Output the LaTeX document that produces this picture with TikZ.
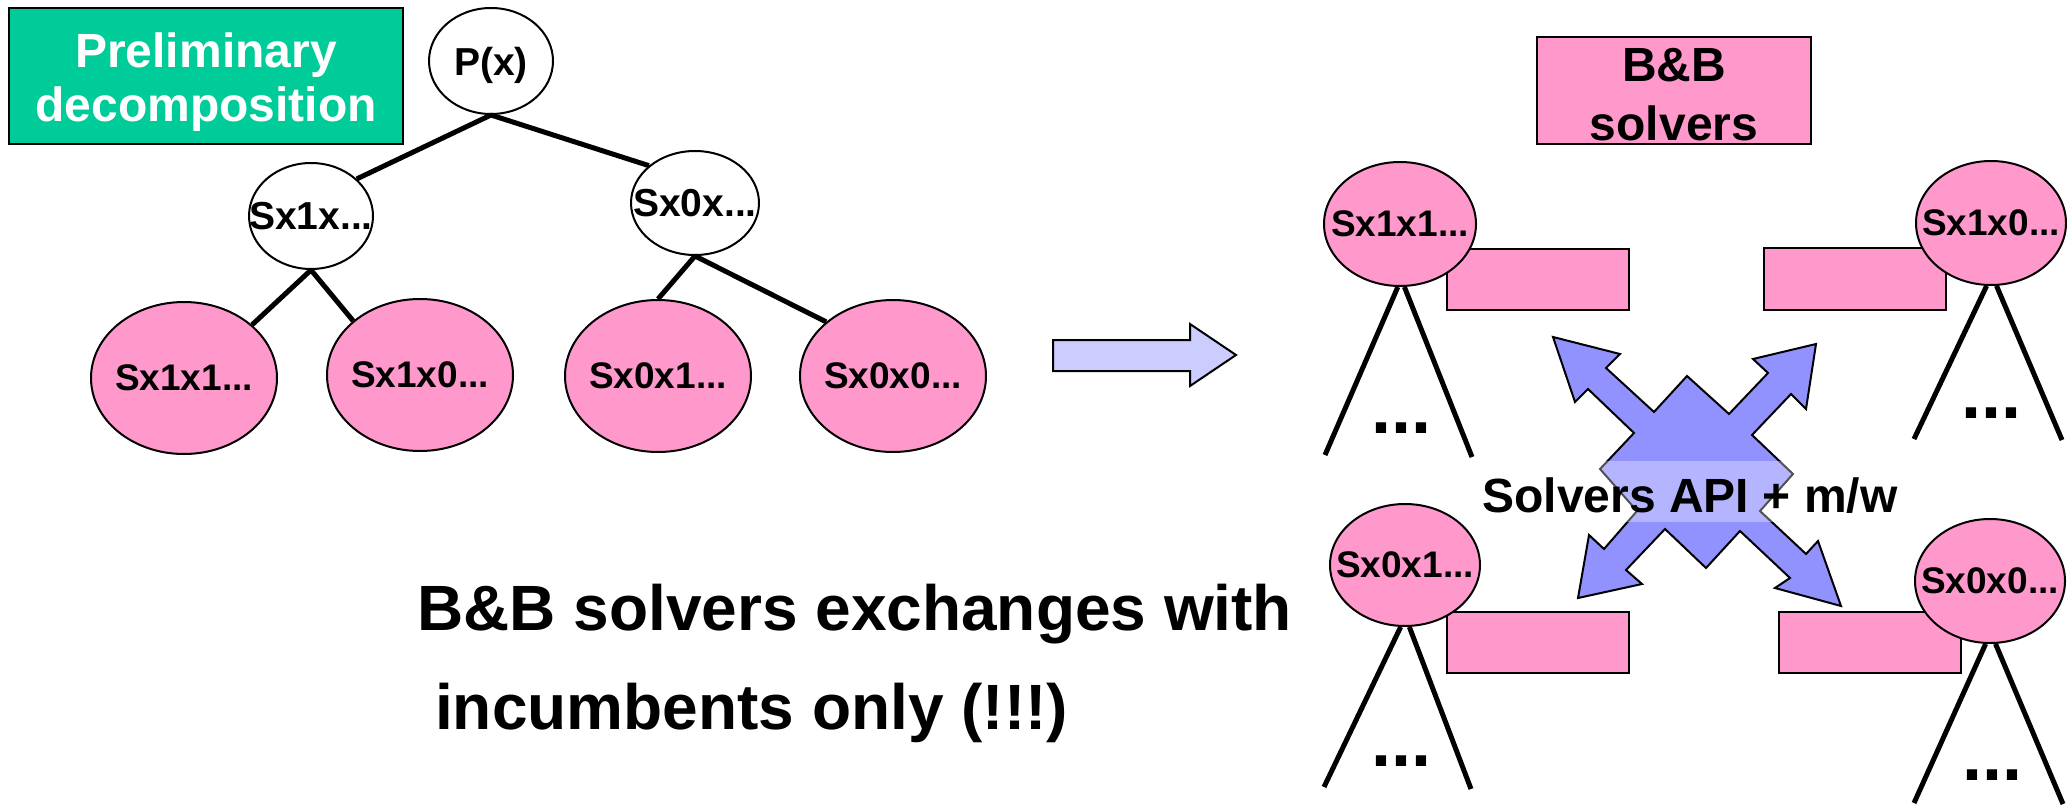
\documentclass[tikz,border=0pt]{standalone}
\usepackage{fontspec}
\setmainfont{Liberation Sans}
\usetikzlibrary{shapes.geometric}
\definecolor{pinkfill}{HTML}{FF99CC}
\definecolor{greenfill}{HTML}{00CC99}
\definecolor{lavender}{HTML}{CCCCFF}
\definecolor{apiblue}{HTML}{9292FF}
\begin{document}
\begin{tikzpicture}[x=1pt,y=-1pt,
  oval/.style 2 args={ellipse, draw=black, line width=2pt, inner sep=0pt,
    minimum width=#1, minimum height=#2},
  lbl/.style={font=\fontsize{37}{40}\selectfont\bfseries, inner sep=0pt, text depth=0pt},
  lblbig/.style={font=\fontsize{39}{42}\selectfont\bfseries, inner sep=0pt, text depth=0pt},
  branch/.style={line width=5pt},
  pinkbox/.style={rectangle, draw=black, line width=2pt, fill=pinkfill, inner sep=0pt},
  dots/.style={font=\fontsize{72}{72}\selectfont\bfseries, inner sep=0pt, anchor=base},
  heading/.style={font=\fontsize{48}{54}\selectfont\bfseries, inner sep=0pt, anchor=base},
  bigtext/.style={font=\fontsize{64}{70}\selectfont\bfseries, inner sep=0pt, anchor=base west},
  blockarrow/.style={draw=black, line width=2pt, line join=miter},
]
\useasboundingbox (0,0) rectangle (2067,805);

% ---- preliminary decomposition tree ----
\node[rectangle, draw=black, line width=2pt, fill=greenfill, inner sep=0pt,
      minimum width=394pt, minimum height=136pt] (prelim) at (206,76) {};
\node[heading, text=white] (prelimA) at (206,68) {Preliminary};
\node[heading, text=white] (prelimB) at (206,122) {decomposition};

\node[oval={124pt}{106pt}, fill=white, label={[lblbig]center:P(x)}] (P) at (491,61) {};
\node[oval={124pt}{106pt}, fill=white, label={[lblbig]center:Sx1x...}] (S1) at (311,216) {};
\node[oval={128pt}{104pt}, fill=white, label={[lblbig]center:Sx0x...}] (S0) at (695,203) {};
\node[oval={186pt}{152pt}, fill=pinkfill, label={[lbl]center:Sx1x1...}] (S11) at (184,378) {};
\node[oval={186pt}{152pt}, fill=pinkfill, label={[lbl]center:Sx1x0...}] (S10) at (420,375) {};
\node[oval={186pt}{152pt}, fill=pinkfill, label={[lbl]center:Sx0x1...}] (S01) at (658,376) {};
\node[oval={186pt}{152pt}, fill=pinkfill, label={[lbl]center:Sx0x0...}] (S00) at (893,376) {};

\draw[branch] (P.south) -- (S1.39);
\draw[branch] (P.south) -- (S0.141);
\draw[branch] (S1.south) -- (S11.38);
\draw[branch] (S1.south) -- (S10.141);
\draw[branch] (S0.south) -- (S01.north);
\draw[branch] (S0.south) -- (S00.141);

% ---- transition arrow ----
\draw[blockarrow, fill=lavender] (1053,340) -- (1190,340) -- (1190,324) -- (1236,355)
  -- (1190,386) -- (1190,371) -- (1053,371) -- cycle;

\node[bigtext] (msgA) at (417,630) {B\&B solvers exchanges with};
\node[bigtext] (msgB) at (435,729) {incumbents only (!!!)};

% ---- parallel B&B solvers ----
\node[pinkbox, minimum width=274pt, minimum height=107pt] (bb) at (1674,90.5) {};
\node[heading] (bbA) at (1674,82) {B\&B};
\node[heading] (bbB) at (1674,141) {solvers};

\node[pinkbox, minimum width=182pt, minimum height=61pt] (q1) at (1538,279.5) {};
\node[pinkbox, minimum width=182pt, minimum height=61pt] (q2) at (1855,279) {};
\node[pinkbox, minimum width=182pt, minimum height=61pt] (q3) at (1538,642.5) {};
\node[pinkbox, minimum width=182pt, minimum height=61pt] (q4) at (1870,642.5) {};

\node[oval={152pt}{124pt}, fill=pinkfill, label={[lbl]center:Sx1x1...}] (R1) at (1400,224) {};
\node[oval={150pt}{124pt}, fill=pinkfill, label={[lbl]center:Sx1x0...}] (R2) at (1991,223) {};
\node[oval={150pt}{122pt}, fill=pinkfill, label={[lbl]center:Sx0x1...}] (R3) at (1405,565) {};
\node[oval={150pt}{124pt}, fill=pinkfill, label={[lbl]center:Sx0x0...}] (R4) at (1990,581) {};

\coordinate (R1l) at (1325,455); \coordinate (R1r) at (1472,457);
\coordinate (R2l) at (1914,439); \coordinate (R2r) at (2062,440);
\coordinate (R3l) at (1324,787); \coordinate (R3r) at (1471,789);
\coordinate (R4l) at (1914,803); \coordinate (R4r) at (2063,804);

\draw[branch] (R1.268) -- (R1l);  \draw[branch] (R1.274) -- (R1r);
\draw[branch] (R2.266) -- (R2l);  \draw[branch] (R2.275) -- (R2r);
\draw[branch] (R3.266) -- (R3l);  \draw[branch] (R3.274) -- (R3r);
\draw[branch] (R4.266) -- (R4l);  \draw[branch] (R4.275) -- (R4r);

\node[dots] (d1) at (1401,433) {...};
\node[dots] (d2) at (1991,418) {...};
\node[dots] (d3) at (1401,766) {...};
\node[dots] (d4) at (1992,780) {...};

% ---- four-way exchange arrow ----
\draw[blockarrow, fill=apiblue]
  (1553,337) -- (1620,354) -- (1606,368) -- (1654,412) -- (1687,376)
  -- (1729,414) -- (1768,373) -- (1753,359) -- (1816,344) -- (1806,409)
  -- (1791,394) -- (1752,435) -- (1793,474) -- (1760,511) -- (1806,554)
  -- (1818,541) -- (1841,606) -- (1775,588) -- (1790,578) -- (1740,531)
  -- (1706,568) -- (1665,529) -- (1626,570) -- (1642,584) -- (1578,598)
  -- (1589,535) -- (1604,549) -- (1637,511) -- (1600,469) -- (1634,433)
  -- (1588,389) -- (1575,402) -- cycle;

\node[rectangle, fill=white, fill opacity=0.32, inner sep=0pt,
      minimum width=413pt, minimum height=61pt] (band) at (1690,491.5) {};
\node[heading] (api) at (1690,512) {Solvers API + m/w};
\end{tikzpicture}
\end{document}
